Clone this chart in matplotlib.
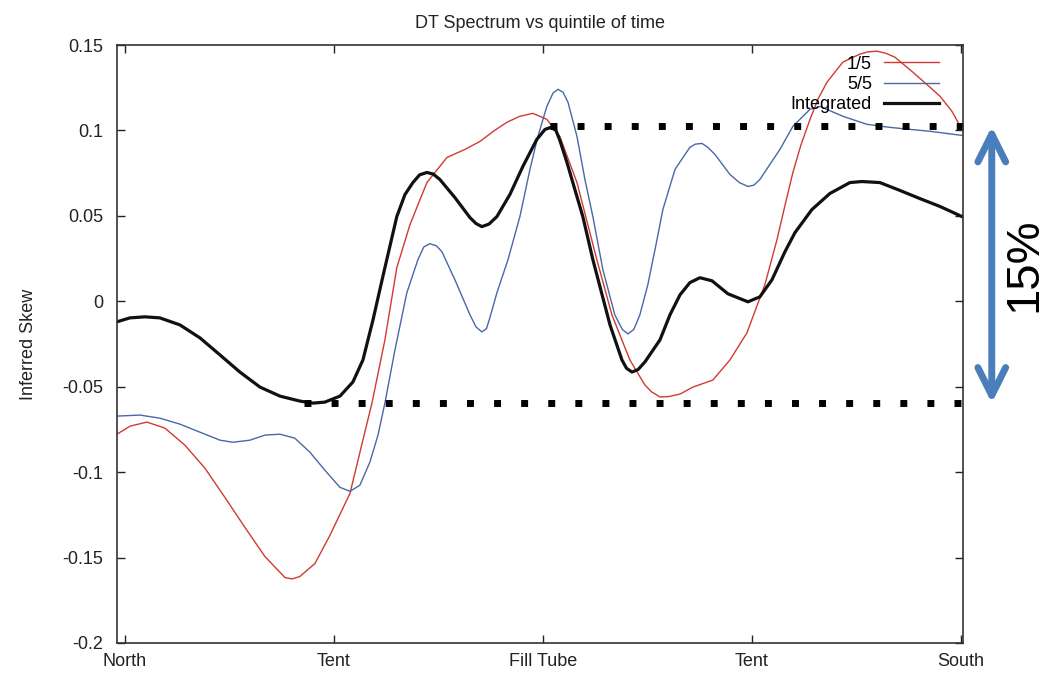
# DT spectrum skew vs quintile of time, with the 15% spread marked

import matplotlib.pyplot as plt

plt.rcParams['font.family'] = ['Liberation Sans', 'DejaVu Sans']

# position along the detector: North, Tent, Fill Tube, Tent, South
tick_pos = [0, 1, 2, 3, 4]
tick_names = ["North", "Tent", "Fill Tube", "Tent", "South"]
ytick_vals = [-0.2, -0.15, -0.1, -0.05, 0, 0.05, 0.1, 0.15]
ytick_names = ["-0.2", "-0.15", "-0.1", "-0.05", "0", "0.05", "0.1", "0.15"]

# Integrated
x_int = [-0.038, 0.024, 0.096, 0.167, 0.263, 0.359, 0.455, 0.550, 0.646, 0.742,
         0.837, 0.900, 0.957, 1.029, 1.091, 1.139, 1.187, 1.234, 1.301, 1.340,
         1.378, 1.410, 1.445, 1.475, 1.507, 1.579, 1.651, 1.680, 1.708, 1.742,
         1.780, 1.842, 1.904, 1.971, 2.010, 2.038, 2.062, 2.081, 2.115, 2.153,
         2.191, 2.239, 2.321, 2.378, 2.400, 2.426, 2.455, 2.488, 2.560, 2.608,
         2.656, 2.703, 2.751, 2.809, 2.885, 2.981, 3.038, 3.096, 3.158, 3.206,
         3.287, 3.373, 3.469, 3.526, 3.612, 3.708, 3.804, 3.900, 4.005]
y_int = [-0.0120, -0.0097, -0.0091, -0.0097, -0.0138, -0.0214, -0.0314, -0.0414, -0.0502, -0.0555,
         -0.0584, -0.0596, -0.0590, -0.0555, -0.0472, -0.0343, -0.0109, 0.0144, 0.0496, 0.0625,
         0.0695, 0.0740, 0.0754, 0.0745, 0.0713, 0.0607, 0.0490, 0.0455, 0.0437, 0.0452,
         0.0496, 0.0625, 0.0789, 0.0948, 0.1006, 0.1018, 0.1001, 0.0942, 0.0813, 0.0654,
         0.0496, 0.0244, -0.0138, -0.0343, -0.0392, -0.0414, -0.0400, -0.0355, -0.0226, -0.0079,
         0.0038, 0.0109, 0.0138, 0.0120, 0.0044, -0.0003, 0.0026, 0.0126, 0.0290, 0.0402,
         0.0537, 0.0631, 0.0695, 0.0701, 0.0695, 0.0649, 0.0601, 0.0555, 0.0496]

# first quintile (1/5)
x_q1 = [-0.038, 0.024, 0.105, 0.191, 0.287, 0.383, 0.478, 0.574, 0.670, 0.766,
        0.800, 0.837, 0.909, 0.981, 1.077, 1.134, 1.182, 1.244, 1.301, 1.364,
        1.445, 1.541, 1.627, 1.699, 1.770, 1.828, 1.890, 1.952, 2.019, 2.081,
        2.163, 2.258, 2.330, 2.416, 2.488, 2.520, 2.560, 2.600, 2.656, 2.718,
        2.813, 2.895, 2.976, 3.062, 3.120, 3.158, 3.196, 3.234, 3.278, 3.316,
        3.359, 3.435, 3.517, 3.555, 3.598, 3.640, 3.684, 3.770, 3.852, 3.900,
        3.957, 4.005]
y_q1 = [-0.0778, -0.0731, -0.0707, -0.0742, -0.0842, -0.0977, -0.1147, -0.1323, -0.1494, -0.1617,
        -0.1625, -0.1611, -0.1535, -0.1370, -0.1124, -0.0836, -0.0596, -0.0226, 0.0197, 0.0449,
        0.0695, 0.0842, 0.0889, 0.0936, 0.1001, 0.1048, 0.1083, 0.1100, 0.1065, 0.0965,
        0.0695, 0.0244, -0.0079, -0.0343, -0.0490, -0.0530, -0.0560, -0.0558, -0.0543, -0.0502,
        -0.0461, -0.0343, -0.0185, 0.0097, 0.0361, 0.0560, 0.0754, 0.0913, 0.1065, 0.1183,
        0.1282, 0.1400, 0.1447, 0.1460, 0.1464, 0.1452, 0.1429, 0.1341, 0.1253, 0.1200,
        0.1112, 0.1006]

# last quintile (5/5)
x_q5 = [-0.038, 0.072, 0.167, 0.263, 0.359, 0.455, 0.517, 0.598, 0.670, 0.742,
        0.813, 0.885, 0.957, 1.029, 1.077, 1.124, 1.172, 1.211, 1.244, 1.292,
        1.349, 1.402, 1.430, 1.459, 1.490, 1.517, 1.579, 1.651, 1.680, 1.708,
        1.730, 1.746, 1.780, 1.833, 1.890, 1.938, 1.976, 2.019, 2.048, 2.072,
        2.096, 2.120, 2.163, 2.201, 2.239, 2.287, 2.344, 2.380, 2.407, 2.435,
        2.464, 2.502, 2.541, 2.574, 2.632, 2.703, 2.730, 2.761, 2.790, 2.823,
        2.895, 2.940, 2.981, 3.010, 3.038, 3.134, 3.196, 3.278, 3.325, 3.435,
        3.550, 3.660, 3.852, 4.005]
y_q5 = [-0.0672, -0.0666, -0.0684, -0.0719, -0.0766, -0.0813, -0.0825, -0.0813, -0.0783, -0.0778,
        -0.0801, -0.0883, -0.0989, -0.1089, -0.1112, -0.1077, -0.0942, -0.0783, -0.0596, -0.0285,
        0.0050, 0.0244, 0.0318, 0.0337, 0.0325, 0.0290, 0.0126, -0.0079, -0.0150, -0.0179,
        -0.0160, -0.0097, 0.0050, 0.0244, 0.0496, 0.0772, 0.0965, 0.1141, 0.1218, 0.1241,
        0.1224, 0.1165, 0.0965, 0.0713, 0.0496, 0.0185, -0.0079, -0.0165, -0.0191, -0.0165,
        -0.0079, 0.0097, 0.0331, 0.0537, 0.0772, 0.0901, 0.0920, 0.0924, 0.0900, 0.0860,
        0.0742, 0.0695, 0.0672, 0.0680, 0.0713, 0.0889, 0.1024, 0.1124, 0.1141, 0.1083,
        0.1036, 0.1018, 0.0995, 0.0971]

# spread markers (max / min of the integrated curve)
ref_hi, ref_lo = 0.1024, -0.0596
hi_start, lo_start = 2.033, 0.859
x_end = 4.01
spread_label = "15%"

red_col = "#d03a33"
blue_col = "#4868a8"
arrow_col = "#4a7ebb"

fig = plt.figure(figsize=(10.48, 6.74), dpi=100)
ax = fig.add_axes([0.1116, 0.0460, 0.8073, 0.8872])

ax.plot(x_q1, y_q1, color=red_col, lw=1.0, label="1/5", solid_joinstyle="round")
ax.plot(x_q5, y_q5, color=blue_col, lw=1.0, label="5/5", solid_joinstyle="round")
ax.plot(x_int, y_int, color="#111111", lw=2.3, label="Integrated", solid_joinstyle="round")

# dotted max / min lines
ax.plot([hi_start, x_end], [ref_hi, ref_hi], color="black", lw=5,
        linestyle=(0, (1, 2.9)), clip_on=False)
ax.plot([lo_start, x_end], [ref_lo, ref_lo], color="black", lw=5,
        linestyle=(0, (1, 2.9)), clip_on=False)

ax.set_xlim(-0.038, x_end)
ax.set_ylim(-0.2, 0.15)
ax.set_xticks(tick_pos)
ax.set_xticklabels(tick_names)
ax.set_yticks(ytick_vals)
ax.set_yticklabels(ytick_names)
ax.tick_params(direction="in", top=True, right=True, length=6, width=1,
               labelsize=13, colors="#222222")
ax.tick_params(axis="y", pad=10)
ax.tick_params(axis="x", pad=7)
for s in ax.spines.values():
    s.set_color("#333333")
    s.set_linewidth(1.2)

ax.set_title("DT Spectrum vs quintile of time", fontsize=13, color="#222222", pad=12)
ax.set_ylabel("Inferred Skew", fontsize=13, color="#222222")
ax.yaxis.set_label_coords(-0.095, 0.5)

ax.legend(loc="upper right", bbox_to_anchor=(0.9716, 0.982), frameon=False,
          markerfirst=False, fontsize=13, handlelength=3.05, handletextpad=0.67,
          labelspacing=0.18, borderpad=0, borderaxespad=0)

# double arrow spanning the spread, outside the axes
ax.annotate("", xy=(1.034, ref_hi), xytext=(1.034, ref_lo),
            xycoords=("axes fraction", "data"), textcoords=("axes fraction", "data"),
            arrowprops=dict(arrowstyle="<->, head_length=1.0, head_width=0.5",
                            color=arrow_col, lw=5, shrinkA=0, shrinkB=0,
                            mutation_scale=20),
            annotation_clip=False)
ax.text(1.072, (ref_hi + ref_lo) / 2, spread_label, transform=ax.get_yaxis_transform(),
        rotation=90, ha="center", va="center", fontsize=34, color="black",
        clip_on=False)

fig.savefig("out.png", dpi=100)
